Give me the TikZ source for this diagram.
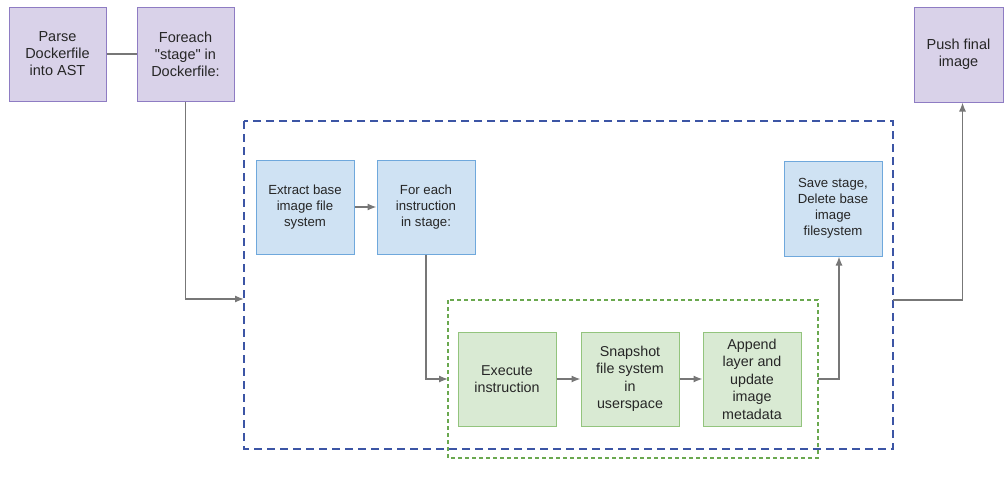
\documentclass[tikz,border=0pt]{standalone}
\usepackage{fontspec}
\setmainfont{Liberation Sans}
% same face without TeX ligature mapping, so " stays a straight quote
\newfontfamily\plainface{Liberation Sans}
\usetikzlibrary{arrows.meta}
\definecolor{purpfill}{HTML}{D9D2E9}
\definecolor{purpline}{HTML}{8E7CC3}
\definecolor{bluefill}{HTML}{CFE2F3}
\definecolor{blueline}{HTML}{6FA8DC}
\definecolor{greenfill}{HTML}{D9EAD3}
\definecolor{greenline}{HTML}{93C47D}
\definecolor{stagedash}{HTML}{3C55A5}
\definecolor{instrdash}{HTML}{6AA84F}
\definecolor{wire}{HTML}{777777}
\begin{document}
\begin{tikzpicture}[x=1pt,y=-1pt,
  box/.style={draw, line width=1pt, align=center, inner sep=2pt,
    minimum width=97pt, minimum height=94pt, text=black!85},
  outerbox/.style={box, fill=purpfill, draw=purpline, font=\fontsize{14.5}{17}\selectfont},
  stagebox/.style={box, fill=bluefill, draw=blueline, font=\fontsize{13.2}{16}\selectfont},
  instrbox/.style={box, fill=greenfill, draw=greenline, font=\fontsize{14.3}{17.5}\selectfont},
  wireline/.style={draw=wire, line width=1.3pt},
  arr/.style={wireline, -{Latex[length=9pt,width=7pt]}}]
\useasboundingbox (0,0) rectangle (1004,479);

% stage loop and instruction loop frames
\draw[stagedash, line width=2pt, dash pattern=on 8pt off 5pt]
  (244,121) rectangle (893,449);
\draw[instrdash, line width=1.2pt, dash pattern=on 4pt off 3pt]
  (448,300) rectangle (818,458);
\coordinate (stageIn) at (244,299);
\coordinate (stageOut) at (893,300);
\coordinate (instrIn) at (448,379);
\coordinate (instrOut) at (818,379);

% top-level steps
\node[outerbox] (parse) at (57.5,54) {Parse\\Dockerfile\\into AST};
\node[outerbox] (foreach) at (185.5,54) {Foreach\\{\plainface"stage"} in\\Dockerfile:};
\node[outerbox, minimum width=89pt, minimum height=95pt] (push) at (958.5,54.5) {Push final\\image};

% per-stage steps
\node[stagebox, minimum width=98pt] (extract) at (305,207) {Extract base\\image file\\system};
\node[stagebox, minimum width=98pt] (eachins) at (426,207) {For each\\instruction\\in stage:};
\node[stagebox, minimum width=98pt, minimum height=95pt] (save) at (833,208.5) {Save stage,\\Delete base\\image\\filesystem};

% per-instruction steps
\node[instrbox, minimum width=98pt] (execute) at (507,379) {Execute\\instruction};
\node[instrbox, minimum width=98pt] (snapshot) at (630,379) {Snapshot\\file system\\in\\userspace};
\node[instrbox, minimum width=98pt] (append) at (752,379) {Append\\layer and\\update\\image\\metadata};

% connectors
\draw[wireline] (parse.east) -- (foreach.west);
\draw[arr] (foreach.south) |- (stageIn);
\draw[arr] (extract.east) -- (eachins.west);
\draw[arr] (eachins.south) |- (instrIn);
\draw[arr] (execute.east) -- (snapshot.west);
\draw[arr] (snapshot.east) -- (append.west);
\draw[arr] (instrOut) -| ([xshift=6pt]save.south);
\draw[arr] (stageOut) -| ([xshift=4pt]push.south);
\end{tikzpicture}
\end{document}
